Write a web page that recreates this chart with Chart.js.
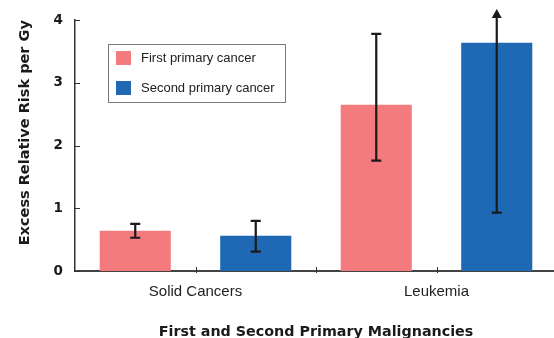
<!DOCTYPE html>
<html>
<head>
<meta charset="utf-8">
<script src="https://cdn.jsdelivr.net/npm/chart.js@4/dist/chart.umd.min.js"></script>
<style>
  html, body { margin: 0; padding: 0; background: #fff; overflow: hidden; }
  #wrap { width: 554px; height: 338px; overflow: hidden; }
  canvas { display: block; }
</style>
</head>
<body>
<div id="wrap"><canvas id="c" width="557" height="338"></canvas></div>
<script>
// Excess relative risk per Gy, with confidence limits
const categories = ['Solid Cancers', 'Leukemia'];
const seriesNames = ['First primary cancer', 'Second primary cancer'];
const firstPrimary = [0.64, 2.65];
const secondPrimary = [0.56, 3.64];
const firstLow = [0.53, 1.76];
const firstHigh = [0.75, 3.78];
const secondLow = [0.31, 0.93];
const secondHigh = [0.80, null]; // null = upper limit not bounded (drawn as arrow)
const yTicks = [0, 1, 2, 3, 4];

const PINK = '#F37B7E';
const BLUE = '#1F68B3';
const INK = '#1a1a1a';

const limits = [
  { low: firstLow, high: firstHigh },
  { low: secondLow, high: secondHigh }
];

const decorations = {
  id: 'decorations',
  afterDatasetsDraw(chart) {
    const ctx = chart.ctx;
    const area = chart.chartArea;
    const xs = chart.scales.x;
    const ys = chart.scales.y;
    ctx.save();

    // inward tick marks on the value axis
    ctx.strokeStyle = '#333';
    ctx.lineWidth = 1;
    yTicks.forEach(v => {
      const y = Math.round(ys.getPixelForValue(v)) + 0.5;
      ctx.beginPath();
      ctx.moveTo(area.left, y);
      ctx.lineTo(area.left + 5, y);
      ctx.stroke();
    });

    // category tick marks: each category centre and the boundary between them
    const centres = categories.map((c, i) => xs.getPixelForTick(i));
    const marks = centres.slice();
    for (let i = 0; i < centres.length - 1; i++) marks.push((centres[i] + centres[i + 1]) / 2);
    marks.forEach(x => {
      const px = Math.round(x) + 0.5;
      ctx.beginPath();
      ctx.moveTo(px, area.bottom - 4);
      ctx.lineTo(px, area.bottom + 2);
      ctx.stroke();
    });

    // error bars
    ctx.strokeStyle = INK;
    ctx.fillStyle = INK;
    ctx.lineWidth = 2.2;
    chart.data.datasets.forEach((ds, di) => {
      const meta = chart.getDatasetMeta(di);
      meta.data.forEach((bar, j) => {
        const x = bar.x;
        const lo = limits[di].low[j];
        const hi = limits[di].high[j];
        const yLo = ys.getPixelForValue(lo);
        const cap = 5;
        if (hi === null) {
          const tip = area.top - 11;
          const base = area.top - 2;
          ctx.beginPath();
          ctx.moveTo(x, yLo);
          ctx.lineTo(x, base);
          ctx.stroke();
          ctx.beginPath();
          ctx.moveTo(x, tip);
          ctx.lineTo(x - 5, base);
          ctx.lineTo(x + 5, base);
          ctx.closePath();
          ctx.fill();
          ctx.beginPath();
          ctx.moveTo(x - cap, yLo);
          ctx.lineTo(x + cap, yLo);
          ctx.stroke();
        } else {
          const yHi = ys.getPixelForValue(hi);
          ctx.beginPath();
          ctx.moveTo(x, yLo);
          ctx.lineTo(x, yHi);
          ctx.moveTo(x - cap, yHi);
          ctx.lineTo(x + cap, yHi);
          ctx.moveTo(x - cap, yLo);
          ctx.lineTo(x + cap, yLo);
          ctx.stroke();
        }
      });
    });

    // legend box
    const lx = 108, ly = 44, lw = 177, lh = 58;
    ctx.fillStyle = '#fff';
    ctx.fillRect(lx, ly, lw, lh);
    ctx.strokeStyle = '#7a7a7a';
    ctx.lineWidth = 1;
    ctx.strokeRect(lx + 0.5, ly + 0.5, lw, lh);
    ctx.font = '13px "Liberation Sans", Arial, sans-serif';
    ctx.textBaseline = 'middle';
    ctx.textAlign = 'left';
    chart.data.datasets.forEach((ds, di) => {
      const rowY = ly + 7 + di * 30;
      ctx.fillStyle = ds.backgroundColor;
      ctx.fillRect(lx + 8, rowY, 15, 14);
      ctx.fillStyle = '#222';
      ctx.fillText(ds.label, lx + 33, rowY + 7);
    });

    ctx.restore();
  }
};

new Chart(document.getElementById('c'), {
  type: 'bar',
  data: {
    labels: categories,
    datasets: [
      { label: seriesNames[0], data: firstPrimary, backgroundColor: PINK },
      { label: seriesNames[1], data: secondPrimary, backgroundColor: BLUE }
    ]
  },
  options: {
    responsive: false,
    animation: false,
    devicePixelRatio: 1,
    layout: { padding: { top: 18, right: 0, bottom: 0, left: 0 } },
    datasets: { bar: { categoryPercentage: 1.0, barPercentage: 0.59 } },
    plugins: {
      legend: { display: false },
      tooltip: { enabled: false }
    },
    scales: {
      x: {
        grid: { display: false, drawTicks: false },
        border: { display: true, color: '#444', width: 2 },
        ticks: {
          color: '#222',
          padding: 12,
          font: { family: '"Liberation Sans", Arial, sans-serif', size: 15 }
        },
        title: {
          display: true,
          text: 'First and Second Primary Malignancies',
          color: '#1a1a1a',
          padding: { top: 0, bottom: -3 },
          font: { family: '"DejaVu Sans", Verdana, sans-serif', size: 14.3, weight: 'bold' }
        },
        afterFit(s) { s.height = 67; }
      },
      y: {
        min: 0,
        max: 4,
        grid: { display: false, drawTicks: false },
        border: { display: true, color: '#333', width: 1.5 },
        afterBuildTicks(s) { s.ticks = yTicks.map(v => ({ value: v })); },
        ticks: {
          color: '#1a1a1a',
          padding: 12,
          font: { family: '"DejaVu Sans", Verdana, sans-serif', size: 13.5, weight: 'bold' }
        },
        title: {
          display: true,
          align: 'end',
          text: 'Excess Relative Risk per Gy',
          color: '#1a1a1a',
          padding: { top: 16.5, bottom: 0 },
          font: { family: '"DejaVu Sans", Verdana, sans-serif', size: 14.5, weight: 'bold' }
        },
        afterFit(s) { s.width = 75; }
      }
    }
  },
  plugins: [decorations]
});
</script>
</body>
</html>
